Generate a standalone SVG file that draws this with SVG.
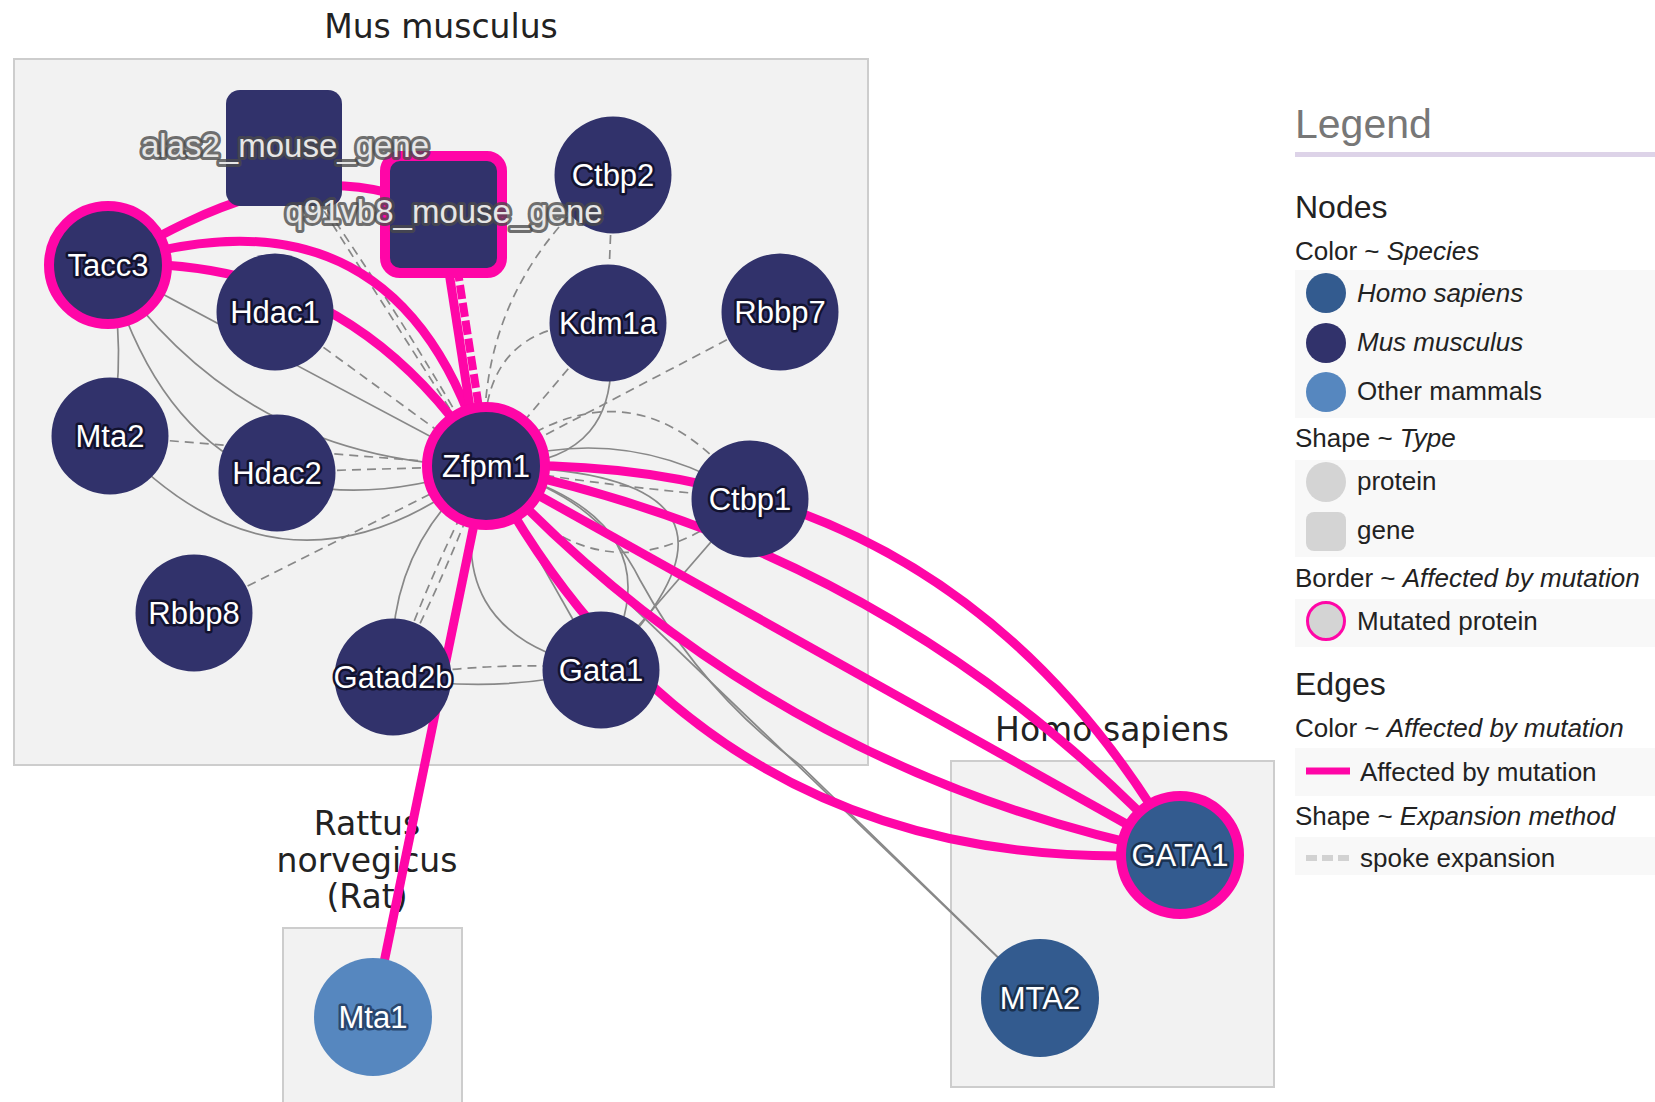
<svg xmlns="http://www.w3.org/2000/svg" width="1655" height="1102" viewBox="0 0 1655 1102">
<style>
.grp{fill:#f2f2f2;stroke:#cdcdcd;stroke-width:2}
.gl{font-family:"DejaVu Sans",sans-serif;font-size:33px;fill:#222;text-anchor:middle}
.e{fill:none;stroke:#888888;stroke-width:1.7}
.d{fill:none;stroke:#888888;stroke-width:1.7;stroke-dasharray:9 6}
.p{fill:none;stroke:#ff06a7;stroke-width:9}
.pd{fill:none;stroke:#ff06a7;stroke-width:8;stroke-dasharray:14 4}
.mm{fill:#31326b}
.hs{fill:#335b8f}
.om{fill:#5687bf}
.mut{stroke:#ff06a7;stroke-width:10}
.nl{font-family:"Liberation Sans",Arial,sans-serif;font-size:31px;fill:#fff;stroke:#12122f;stroke-width:5;stroke-linejoin:round;paint-order:stroke;text-anchor:middle}
.nlh{stroke:#1a314f}
.nlo{stroke:#294770}
.gn{font-family:"Liberation Sans",Arial,sans-serif;font-size:33px;fill:#e6e6e6;stroke:#4a4a4a;stroke-opacity:.8;stroke-width:6;stroke-linejoin:round;paint-order:stroke;text-anchor:middle}
.lt{font-family:"Liberation Sans",Arial,sans-serif;font-size:26px;fill:#222}
.lh{font-family:"Liberation Sans",Arial,sans-serif;font-size:32px;fill:#222}
.lbg{fill:#f8f8f8}
.lg{fill:#d4d4d4}
</style>
<rect width="1655" height="1102" fill="#ffffff"/>

<g id="groups">
  <rect class="grp" x="14" y="59" width="854" height="706"/>
  <text class="gl" x="441" y="38">Mus musculus</text>
  <rect class="grp" x="951" y="761" width="323" height="326"/>
  <text class="gl" x="1112" y="741">Homo sapiens</text>
  <rect class="grp" x="283" y="928" width="179" height="200"/>
  <text class="gl" x="367" y="835">Rattus</text>
  <text class="gl" x="367" y="872">norvegicus</text>
  <text class="gl" x="367" y="908">(Rat)</text>
</g>

<g id="edges">
  <!-- solid gray -->
  <path class="e" d="M108,265 L486,466"/>
  <path class="e" d="M108,265 Q244,464 486,466"/>
  <path class="e" d="M108,265 Q192,564 486,466"/>
  <path class="e" d="M108,265 Q128,350 110,436"/>
  <path class="e" d="M110,436 Q284,628 486,466"/>
  <path class="e" d="M607,323 Q633,468 486,466"/>
  <path class="e" d="M486,466 Q625,418 749,498"/>
  <path class="e" d="M749,498 L601,669"/>
  <path class="e" d="M486,466 L601,669"/>
  <path class="e" d="M486,466 Q427,634 601,669"/>
  <path class="e" d="M486,466 Q690,520 601,669"/>
  <path class="e" d="M486,466 Q800,470 601,669"/>
  <path class="e" d="M393,677 Q384,548 486,466"/>
  <path class="e" d="M393,677 Q497,695 601,669"/>
  <path class="e" d="M486,466 L1040,998"/>
  <path class="e" d="M486,466 C560,485 610,520 640,580 Q700,690 800,765 L1040,998"/>
  <!-- dashed gray (spoke expansion) -->
  <path class="d" d="M275,312 L486,466"/>
  <path class="d" d="M277,472 L486,466"/>
  <path class="d" d="M110,436 L486,466"/>
  <path class="d" d="M194,613 L486,466"/>
  <path class="d" d="M284,148 L486,466"/>
  <path class="d" d="M284,148 Q400,310 486,466"/>
  <path class="d" d="M613,175 L607,323"/>
  <path class="d" d="M613,175 Q470,290 486,466"/>
  <path class="d" d="M607,323 Q470,320 486,466"/>
  <path class="d" d="M607,323 L486,466"/>
  <path class="d" d="M780,312 L486,466"/>
  <path class="d" d="M486,466 Q634,343 749,498"/>
  <path class="d" d="M486,466 Q617,488 749,498"/>
  <path class="d" d="M486,466 Q600,621 749,498"/>
  <path class="d" d="M393,677 Q432,568 486,466"/>
  <path class="d" d="M393,677 Q447,575 486,466"/>
  <path class="d" d="M393,677 Q497,660 601,669"/>
  <!-- affected by mutation -->
  <path class="p" d="M108,265 C210,205 320,150 444,214"/>
  <path class="p" d="M108,265 Q350,252 486,466"/>
  <path class="p" d="M108,265 Q402,168 486,466"/>
  <path class="p" d="M440,214 L479,466"/>
  <path class="pd" d="M449,214 L488,466"/>
  <path class="p" d="M486,466 L373,1016"/>
  <path class="p" d="M486,466 Q950,450 1180,854"/>
  <path class="p" d="M486,466 Q895,548 1180,854"/>
  <path class="p" d="M486,466 L1180,854"/>
  <path class="p" d="M486,466 Q770,772 1180,854"/>
  <path class="p" d="M486,466 Q708,883 1180,854"/>
</g>

<g id="n-alas2"><rect class="mm" x="226" y="90" width="116" height="116" rx="14"/></g>
<g id="n-q91vb8"><rect class="mm mut" x="385" y="156" width="117" height="117" rx="15"/></g>
<g id="n-tacc3"><circle class="mm mut" cx="108" cy="265" r="59"/><text class="nl" x="108" y="276">Tacc3</text></g>
<g id="n-hdac1"><circle class="mm" cx="275" cy="312" r="58.5"/><text class="nl" x="275" y="323">Hdac1</text></g>
<g id="n-mta2"><circle class="mm" cx="110" cy="436" r="58.5"/><text class="nl" x="110" y="447">Mta2</text></g>
<g id="n-hdac2"><circle class="mm" cx="277" cy="473" r="58.5"/><text class="nl" x="277" y="484">Hdac2</text></g>
<g id="n-zfpm1"><circle class="mm mut" cx="486" cy="466" r="59"/><text class="nl" x="486" y="477">Zfpm1</text></g>
<g id="n-ctbp2"><circle class="mm" cx="613" cy="175" r="58.5"/><text class="nl" x="613" y="186">Ctbp2</text></g>
<g id="n-kdm1a"><circle class="mm" cx="608" cy="323" r="58.5"/><text class="nl" x="608" y="334">Kdm1a</text></g>
<g id="n-rbbp7"><circle class="mm" cx="780" cy="312" r="58.5"/><text class="nl" x="780" y="323">Rbbp7</text></g>
<g id="n-ctbp1"><circle class="mm" cx="750" cy="499" r="58.5"/><text class="nl" x="750" y="510">Ctbp1</text></g>
<g id="n-rbbp8"><circle class="mm" cx="194" cy="613" r="58.5"/><text class="nl" x="194" y="624">Rbbp8</text></g>
<g id="n-gatad2b"><circle class="mm" cx="393" cy="677" r="58.5"/><text class="nl" x="393" y="688">Gatad2b</text></g>
<g id="n-gata1"><circle class="mm" cx="601" cy="670" r="58.5"/><text class="nl" x="601" y="681">Gata1</text></g>
<g id="n-GATA1"><circle class="hs mut" cx="1180" cy="855" r="59"/><text class="nl nlh" x="1180" y="866">GATA1</text></g>
<g id="n-MTA2"><circle class="hs" cx="1040" cy="998" r="59"/><text class="nl nlh" x="1040" y="1009">MTA2</text></g>
<g id="n-mta1"><circle class="om" cx="373" cy="1017" r="59"/><text class="nl nlo" x="373" y="1028">Mta1</text></g>
<g id="labels-genes">
  <text class="gn" x="285" y="157">alas2_mouse_gene</text>
  <text class="gn" x="444" y="223">q91vb8_mouse_gene</text>
</g>

<g id="legend">
  <text x="1295" y="138" font-family="Liberation Sans, Arial, sans-serif" font-size="41" fill="#777">Legend</text>
  <rect x="1295" y="152" width="360" height="5" fill="#ddd3e8"/>
  <text class="lh" x="1295" y="218">Nodes</text>
  <text class="lt" x="1295" y="260">Color ~ <tspan font-style="italic">Species</tspan></text>
  <rect class="lbg" x="1295" y="270" width="360" height="148"/>
  <circle class="hs" cx="1326" cy="293" r="20"/>
  <text class="lt" x="1357" y="302" font-style="italic">Homo sapiens</text>
  <circle class="mm" cx="1326" cy="343" r="20"/>
  <text class="lt" x="1357" y="351" font-style="italic">Mus musculus</text>
  <circle class="om" cx="1326" cy="392" r="20"/>
  <text class="lt" x="1357" y="400">Other mammals</text>
  <text class="lt" x="1295" y="447">Shape ~ <tspan font-style="italic">Type</tspan></text>
  <rect class="lbg" x="1295" y="460" width="360" height="97"/>
  <circle class="lg" cx="1326" cy="482" r="20"/>
  <text class="lt" x="1357" y="490">protein</text>
  <rect class="lg" x="1306" y="512" width="40" height="39" rx="8"/>
  <text class="lt" x="1357" y="539">gene</text>
  <text class="lt" x="1295" y="587">Border ~ <tspan font-style="italic">Affected by mutation</tspan></text>
  <rect class="lbg" x="1295" y="599" width="360" height="48"/>
  <circle class="lg" cx="1326" cy="621" r="18.5" stroke="#ff06a7" stroke-width="3"/>
  <text class="lt" x="1357" y="630">Mutated protein</text>
  <text class="lh" x="1295" y="695">Edges</text>
  <text class="lt" x="1295" y="737">Color ~ <tspan font-style="italic">Affected by mutation</tspan></text>
  <rect class="lbg" x="1295" y="748" width="360" height="48"/>
  <line x1="1306" y1="771" x2="1350" y2="771" stroke="#ff06a7" stroke-width="7"/>
  <text class="lt" x="1360" y="781">Affected by mutation</text>
  <text class="lt" x="1295" y="825">Shape ~ <tspan font-style="italic">Expansion method</tspan></text>
  <rect class="lbg" x="1295" y="837" width="360" height="38"/>
  <line x1="1306" y1="858" x2="1350" y2="858" stroke="#d2d2d2" stroke-width="6" stroke-dasharray="11 5"/>
  <text class="lt" x="1360" y="867">spoke expansion</text>
</g>
</svg>
